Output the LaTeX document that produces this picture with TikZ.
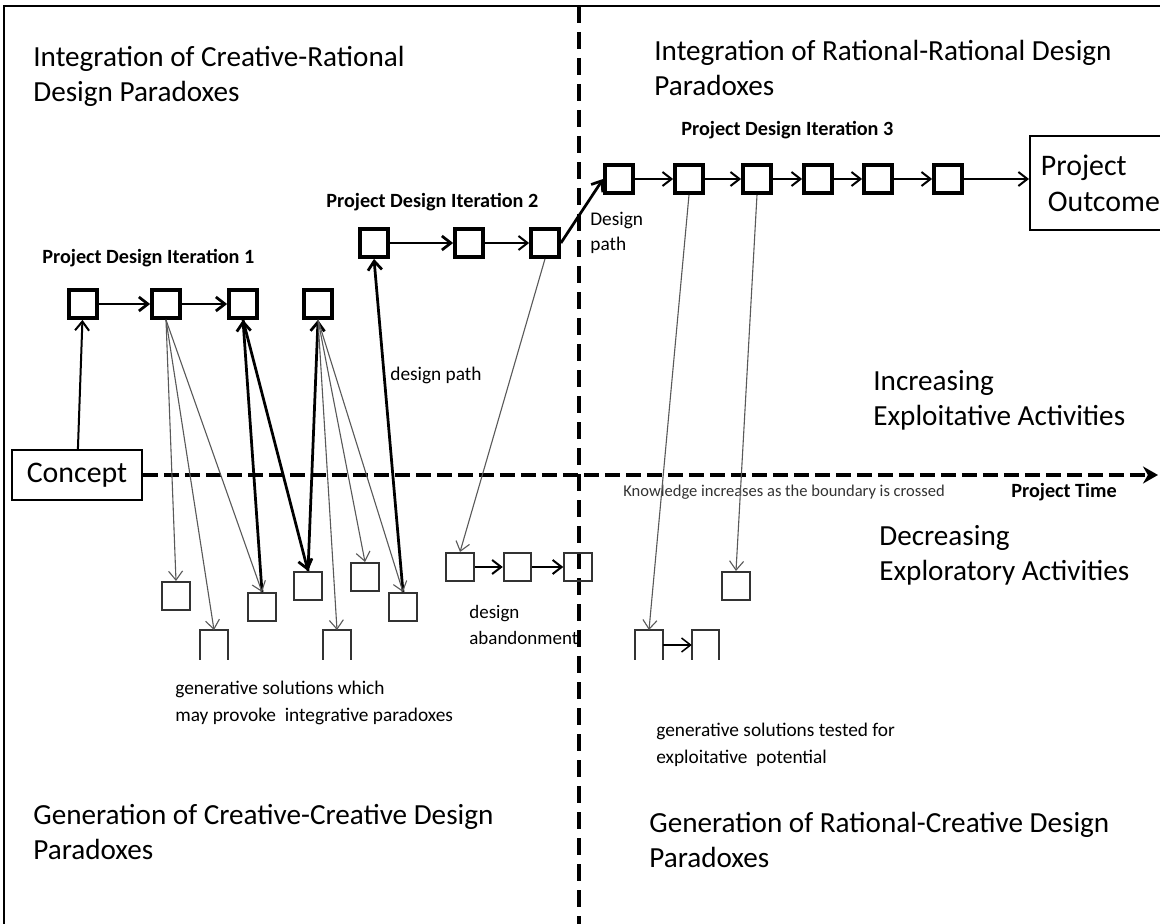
\documentclass[tikz,border=0pt]{standalone}
\usepackage{fontspec}
\setmainfont{Carlito}
\usepackage{tikz}
\usetikzlibrary{arrows,arrows.meta,positioning}
\definecolor{edgegrey}{gray}{0.35}
\tikzset{thinarrow/.style={draw=edgegrey,line width=0.22mm},midarrow/.style={line width=0.4mm},fatarrow/.style={line width=0.55mm}}

\begin{document}
\begin{tikzpicture}[x=0.2mm,y=-0.2mm,>={Straight Barb[length=1.8mm,width=2.8mm]}]

\tikzset{itnode/.style={draw,line width=0.75mm,minimum size=5.6mm,inner sep=0pt,shape=rectangle},
solnode/.style={draw=black!80,line width=0.4mm,minimum width=5.5mm,minimum height=5.6mm,inner sep=0pt,shape=rectangle},
gapnode/.style={minimum width=5.5mm,minimum height=6mm,inner sep=0pt,outer sep=0pt,shape=rectangle},
headtext/.style={font=\fontsize{16.6}{20}\selectfont,align=left,anchor=west,inner sep=0pt},
smalltext/.style={font=\fontsize{11}{15.5}\selectfont,align=left,anchor=west,inner sep=0pt},
boldtext/.style={font=\fontsize{11.5}{14}\selectfont\bfseries,anchor=west,inner sep=0pt},
labelbox/.style={draw,line width=0.35mm,font=\fontsize{17}{20.5}\selectfont,align=left,inner sep=0pt}}

\useasboundingbox (0,0) rectangle (1160,924);
\fill[white] (0,0) rectangle (1160,924);
\clip (0,0) rectangle (1160,924);

% Frame
\coordinate (frameTL) at (4,6);
\draw[line width=0.3mm] (4,924) -- (frameTL) -- (1160,6);

% Boundary and time axis
\coordinate (bTop) at (579,6);
\coordinate (bBot) at (579,924);
\draw[line width=0.7mm,dash pattern=on 3.4mm off 1.8mm] (bTop) -- (bBot);
\node[labelbox,minimum width=26mm,minimum height=10mm,align=center] (concept) at (77,475) {Concept};
\coordinate (timeEnd) at (1158,475);
\draw[line width=0.75mm,dash pattern=on 3mm off 1.2mm,-{Stealth[length=3mm,width=3.4mm]}] (concept) -- (timeEnd);
\node[boldtext] (ptime) at (1011,492) {Project Time};
\node[smalltext,font=\fontsize{9.4}{11}\selectfont,text=black!80] (know) at (623,492) {Knowledge increases as the boundary is crossed};

% Quadrant labels
\node[headtext] (q1) at (33,76) {Integration of Creative-Rational\\Design Paradoxes};
\node[headtext] (q2) at (654,68) {Integration of Rational-Rational Design\\Paradoxes};
\node[headtext] (q3) at (33,832) {Generation of Creative-Creative Design\\Paradoxes};
\node[headtext] (q4) at (649,840) {Generation of Rational-Creative Design\\Paradoxes};
\node[headtext] (incr) at (873,400) {Increasing\\Exploitative Activities};
\node[headtext] (decr) at (879,555) {Decreasing\\Exploratory Activities};

% Iteration 1
\node[boldtext] (it1) at (42,258) {Project Design Iteration 1};
\node[itnode] (a1) at (83,304) {};
\node[itnode] (a2) at (166,304) {};
\node[itnode] (a3) at (243,304) {};
\node[itnode] (a4) at (318,304) {};

% Iteration 2
\node[boldtext] (it2) at (326,202) {Project Design Iteration 2};
\node[itnode] (b1) at (374,243) {};
\node[itnode] (b2) at (469,243) {};
\node[itnode] (b3) at (545,243) {};

% Iteration 3
\node[boldtext] (it3) at (681,130) {Project Design Iteration 3};
\foreach \x [count=\i] in {619,689,757,818,878,948} \node[itnode] (t\i) at (\x,179) {};
\node[labelbox,anchor=west,minimum height=18.8mm,text width=25mm,inner xsep=2.2mm] (outcome) at (1029,183) {Project\\\hspace{1.4mm}Outcome};

% Generative solutions
\node[solnode] (l1) at (176,596) {};
\node[gapnode] (l2) at (214,645) {};
\node[solnode] (l3) at (262,607) {};
\node[solnode] (l4) at (308,586) {};
\node[gapnode] (l5) at (337,645) {};
\node[solnode] (l6) at (365,577) {};
\node[solnode] (l7) at (403,607) {};
\node[solnode] (d1) at (460,567) {};
\node[solnode,right=5.6mm of d1] (d2) {};
\node[solnode,right=6.2mm of d2] (d3) {};
\node[solnode] (r1) at (736,586) {};
\node[gapnode] (r2) at (649,645) {};
\node[gapnode,right=5.8mm of r2] (r3) {};
\foreach \s in {l2,l5,r2,r3} \draw[draw=black!80,line width=0.4mm] (\s.south west) |- (\s.north east) -- (\s.south east);

% Design path
\draw[->,midarrow] (concept) -- (a1);
\draw[->,fatarrow] (a1) -- (a2);
\draw[->,fatarrow] (a2) -- (a3);
\draw[->,fatarrow] (l3.north) -- (a3.south);
\draw[->,fatarrow] (a3.south) -- (l4.north);
\draw[->,fatarrow] (l4.north) -- (a4.south);
\draw[->,fatarrow] (l7.north) -- (b1.south);
\draw[->,fatarrow] (b1) -- (b2);
\draw[->,midarrow] (b2) -- (b3);
\draw[->,fatarrow] (b3.east) -- (t1.west);
\foreach \i/\j in {1/2,2/3,3/4,4/5,5/6} \draw[->,midarrow] (t\i) -- (t\j);
\draw[->,midarrow] (t6.east) -- (outcome.west |- t6);
\draw[->,midarrow] (d1) -- (d2);
\draw[->,midarrow] (d2) -- (d3);
\draw[->,line width=0.3mm] (r2) -- (r3);

% Exploration
\foreach \s in {l1,l2,l3} \draw[->,thinarrow] (a2.south) -- (\s.north);
\foreach \s in {l5,l6,l7} \draw[->,thinarrow] (a4.south) -- (\s.north);
\draw[->,thinarrow] (b3.south) -- (d1.north);
\draw[->,thinarrow] (t2.south) -- (r2.north);
\draw[->,thinarrow] (t3.south) -- (r1.north);

% Path labels
\node[smalltext] (dpath) at (390,375) {design path};
\node[smalltext,font=\fontsize{11}{14.5}\selectfont] (dpath3) at (590,233) {Design\\ path};
\node[smalltext,font=\fontsize{10.8}{14.5}\selectfont] (aband) at (469,625) {design\\abandonment};
\node[smalltext] (gen1) at (175,703) {generative solutions which\\may provoke\ \ integrative paradoxes};
\node[smalltext,font=\fontsize{11}{15}\selectfont] (gen2) at (656,745) {generative solutions tested for\\exploitative\ \ potential};

\end{tikzpicture}
\end{document}
